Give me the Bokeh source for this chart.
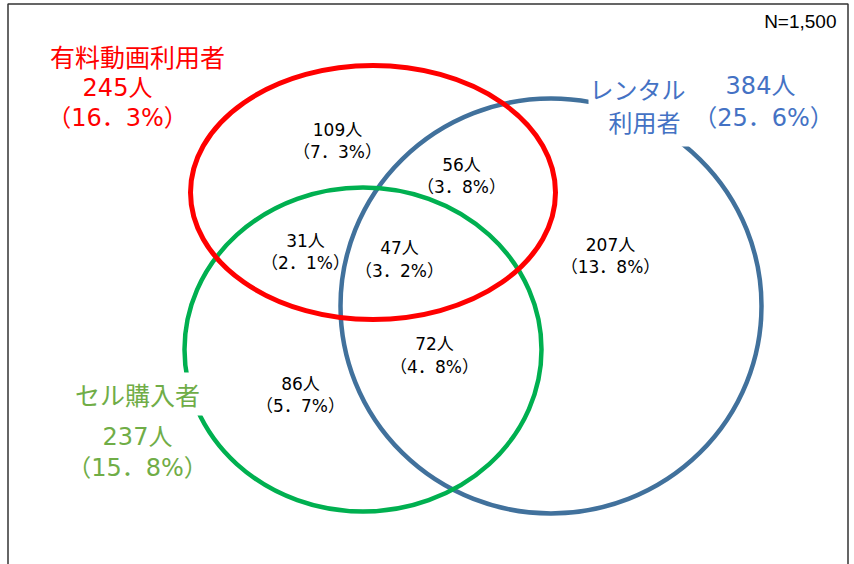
from bokeh.plotting import figure
from bokeh.models import Range1d
from bokeh.core.properties import value
from bokeh.embed import file_html
from bokeh.resources import INLINE

# ---- data ----
N_total = 1500
set_names = ["有料動画利用者", "レンタル利用者", "セル購入者"]
set_counts = [245, 384, 237]
set_pcts = [16.3, 25.6, 15.8]

region_counts = [109, 56, 31, 47, 207, 72, 86]
region_pcts = [7.3, 3.8, 2.1, 3.2, 13.8, 4.8, 5.7]

# ---- layout (pixel coordinates, y downwards) ----
circ_x = [550.5, 362.5, 372.5]      # blue, green, red
circ_y = [305.5, 349.0, 192.0]
circ_w = [421.0, 357.0, 365.0]
circ_h = [415.0, 324.0, 254.0]
circ_col = ["#41719C", "#00B050", "#FF0000"]
circ_lw = [4.5, 4.5, 5.0]

reg_x = [337, 461, 305, 399, 610, 434, 300]
reg_y1 = [129, 164, 240, 247, 244, 343, 383]
reg_y2 = [151, 186, 262, 270, 266, 366, 405]

FONT = value("DejaVu Sans, Noto Sans CJK JP")
FONT_CJK = value("Noto Sans CJK JP")


def pct_text(v):
    return "（" + f"{v:.1f}".replace(".", "．") + "%）"


p = figure(width=854, height=564, x_range=Range1d(0, 854), y_range=Range1d(564, 0),
           output_backend="svg", toolbar_location=None, min_border=0,
           x_axis_location=None, y_axis_location=None)
p.grid.visible = False
p.outline_line_color = None
p.background_fill_color = "white"
p.border_fill_color = "white"

# frame
p.line(x=[7.5, 7.5, 847.5, 847.5], y=[566, 3.5, 3.5, 566], line_color="#333333", line_width=1.5)

# circles (blue, green, red)
p.ellipse(x=circ_x, y=circ_y, width=circ_w, height=circ_h, fill_color=None,
          line_color=circ_col, line_width=circ_lw)

# white label backgrounds covering the circles
p.quad(left=[588, 68], right=[700, 206], top=[66, 372], bottom=[146, 415],
       fill_color="white", line_color=None)

# region labels
p.text(x=reg_x, y=reg_y1, text=[f"{n}人" for n in region_counts], text_font=FONT,
       text_font_size="17px", text_align="center", text_baseline="middle", text_color="#000000")
p.text(x=reg_x, y=reg_y2, text=[pct_text(v) for v in region_pcts], text_font=FONT,
       text_font_size="17px", text_align="center", text_baseline="middle", text_color="#000000")

# set labels
red, blue, green = "#FF0000", "#4472C4", "#70AD47"
p.text(x=[137], y=[55], text=[set_names[0]], text_font=FONT_CJK, text_font_size="25px",
       text_align="center", text_baseline="middle", text_color=red)
p.text(x=[117, 117], y=[87, 117], text=[f"{set_counts[0]}人", pct_text(set_pcts[0])],
       text_font=FONT, text_font_size="24px", text_align="center", text_baseline="middle",
       text_color=red)

p.text(x=[637, 644], y=[88, 121], text=[set_names[1][:4], set_names[1][4:]], text_font=FONT_CJK,
       text_font_size="24px", text_align="center", text_baseline="middle", text_color=blue)
p.text(x=[760, 763], y=[85, 117], text=[f"{set_counts[1]}人", pct_text(set_pcts[1])],
       text_font=FONT, text_font_size="24px", text_align="center", text_baseline="middle",
       text_color=blue)

p.text(x=[137], y=[393], text=[set_names[2]], text_font=FONT_CJK, text_font_size="25px",
       text_align="center", text_baseline="middle", text_color=green)
p.text(x=[137, 137], y=[436, 467],
       text=[f"{set_counts[2]}人", pct_text(set_pcts[2])],
       text_font=FONT, text_font_size="24px", text_align="center", text_baseline="middle",
       text_color=green)

p.text(x=[836], y=[21], text=[f"N={N_total:,}"], text_font=value("Liberation Sans"),
       text_font_size="19px", text_align="right", text_baseline="middle", text_color="#000000")

open("out.html", "w").write(file_html(p, INLINE))
